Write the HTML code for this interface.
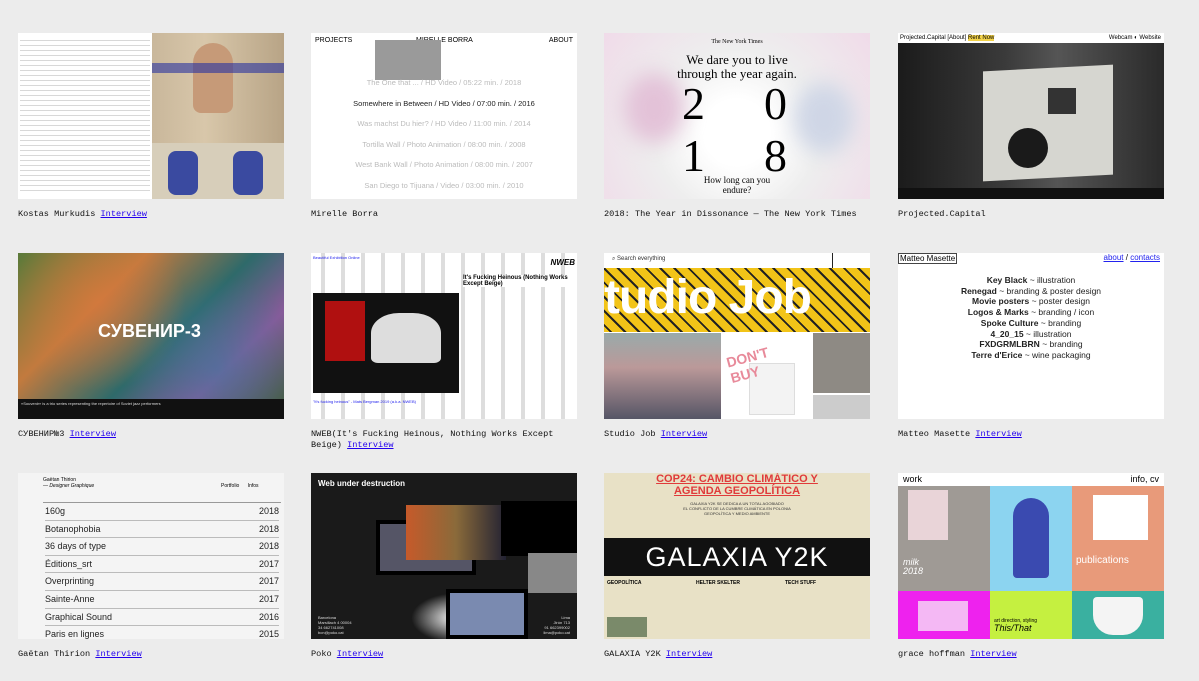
<!DOCTYPE html>
<html><head><meta charset="utf-8">
<style>
*{box-sizing:border-box;margin:0;padding:0}
body{width:1199px;height:681px;background:#ececec;font-family:"Liberation Mono",monospace;position:relative;overflow:hidden}
.card{position:absolute;width:266px}
.th{position:relative;width:266px;height:166px;overflow:hidden;background:#fff}
.cap{position:absolute;top:176px;left:0;font-size:8.6px;line-height:11px;color:#111;white-space:nowrap}
.cap a{color:#2200ee;text-decoration:underline}
.s{font-family:"Liberation Sans",sans-serif;position:absolute}
</style></head><body>

<div class="card" style="left:18px;top:33px">
 <div class="th">
  <div style="position:absolute;left:0;top:0;width:134px;height:166px;background:#fff">
   <div style="position:absolute;left:2px;top:4px;width:130px;height:158px;background:repeating-linear-gradient(#fff 0 3px,#d8d8d8 3px 4px,#fff 4px 5px)"></div>
  </div>
  <div style="position:absolute;left:134px;top:0;width:132px;height:110px;background:linear-gradient(90deg,#c9b79b,#d8c7aa 40%,#b8a486)"></div>
  <div style="position:absolute;left:175px;top:10px;width:40px;height:70px;border-radius:20px 20px 8px 8px;background:#c69a78"></div>
  <div style="position:absolute;left:134px;top:30px;width:132px;height:10px;background:rgba(40,50,160,.6)"></div>
  <div style="position:absolute;left:134px;top:110px;width:132px;height:56px;background:#d7ceba"></div>
  <div style="position:absolute;left:150px;top:118px;width:30px;height:44px;background:#3a4aa0;border-radius:8px"></div>
  <div style="position:absolute;left:215px;top:118px;width:30px;height:44px;background:#3a4aa0;border-radius:8px"></div>
 </div>
 <div class="cap">Kostas Murkudis <a>Interview</a></div>
</div>

<div class="card" style="left:311px;top:33px">
 <div class="th">
  <div class="s" style="left:4px;top:4px;font-size:7px">PROJECTS</div>
  <div class="s" style="left:105px;top:4px;font-size:7px">MIRELLE BORRA</div>
  <div class="s" style="right:4px;top:4px;font-size:7px">ABOUT</div>
  <div style="position:absolute;left:64px;top:7px;width:66px;height:40px;background:#9a9a9a"></div>
  <div class="s" style="left:0;width:266px;text-align:center;top:40px;font-size:7.5px;line-height:20.5px;color:#bbb">The One that ... / HD Video / 05:22 min. / 2018<br><span style="color:#222">Somewhere in Between / HD Video / 07:00 min. / 2016</span><br>Was machst Du hier? / HD Video / 11:00 min. / 2014<br>Tortilla Wall / Photo Animation / 08:00 min. / 2008<br>West Bank Wall / Photo Animation / 08:00 min. / 2007<br>San Diego to Tijuana / Video / 03:00 min. / 2010<br>Public Poster / Walls of Separation Project / 2012<br>Peace Lines / Walls of Separation Project / Photographs / 2009</div>
 </div>
 <div class="cap">Mirelle Borra</div>
</div>

<div class="card" style="left:604px;top:33px">
 <div class="th" style="background:radial-gradient(circle at 50% 60%,#fff 20%,#eee 50%,#f0dbe9 100%)">
  <div style="position:absolute;left:20px;top:40px;width:60px;height:70px;background:#e3c2d8;filter:blur(10px);border-radius:50%"></div>
  <div style="position:absolute;left:190px;top:50px;width:60px;height:70px;background:#cfd6e6;filter:blur(10px);border-radius:50%"></div>
  <div style="position:absolute;left:0;top:6px;width:266px;text-align:center;font-family:'Liberation Serif',serif;font-size:6px">The New York Times</div>
  <div style="position:absolute;left:0;top:20px;width:266px;text-align:center;font-family:'Liberation Serif',serif;font-size:13px;line-height:14px">We dare you to live<br>through the year again.</div>
  <div style="position:absolute;left:78px;top:44px;font-family:'Liberation Serif',serif;font-size:46px">2</div>
  <div style="position:absolute;left:160px;top:44px;font-family:'Liberation Serif',serif;font-size:46px">0</div>
  <div style="position:absolute;left:78px;top:96px;font-family:'Liberation Serif',serif;font-size:46px">1</div>
  <div style="position:absolute;left:160px;top:96px;font-family:'Liberation Serif',serif;font-size:46px">8</div>
  <div style="position:absolute;left:0;top:142px;width:266px;text-align:center;font-family:'Liberation Serif',serif;font-size:9px;line-height:10px">How long can you<br>endure?</div>
 </div>
 <div class="cap">2018: The Year in Dissonance — The New York Times</div>
</div>

<div class="card" style="left:898px;top:33px">
 <div class="th" style="background:#fff">
  <div class="s" style="left:2px;top:2px;font-size:6px">Projected.Capital  [About]  <span style="background:#f3d34a">Rent Now</span></div>
  <div class="s" style="right:3px;top:2px;font-size:6px">Webcam ◐ Website</div>
  <div style="position:absolute;left:0;top:10px;width:266px;height:156px;background:linear-gradient(90deg,#1b1b1b,#3a3a3a 40%,#555 60%,#2a2a2a)"></div>
  <div style="position:absolute;left:85px;top:35px;width:130px;height:110px;background:#d6d6d0;transform:skewY(-3deg)"></div>
  <div style="position:absolute;left:150px;top:55px;width:28px;height:26px;background:#333"></div>
  <div style="position:absolute;left:110px;top:95px;width:40px;height:40px;background:#1a1a1a;border-radius:50%"></div>
  <div style="position:absolute;left:0;top:155px;width:266px;height:11px;background:#111"></div>
 </div>
 <div class="cap">Projected.Capital</div>
</div>

<div class="card" style="left:18px;top:253px">
 <div class="th" style="background:linear-gradient(135deg,#5a7a3a,#c27a3e 30%,#2e6a6a 55%,#8a5a9a 75%,#3a5a2a)">
  <div style="position:absolute;inset:0;background:radial-gradient(circle at 30% 30%,rgba(220,120,60,.6),transparent 40%),radial-gradient(circle at 75% 70%,rgba(60,120,160,.6),transparent 40%)"></div>
  <div class="s" style="left:80px;top:68px;font-size:18px;font-weight:bold;color:#fff">СУВЕНИР-3</div>
  <div style="position:absolute;left:0;top:146px;width:266px;height:20px;background:#111"></div>
  <div class="s" style="left:3px;top:148px;font-size:4px;color:#ddd">«Souvenir» is a trio series representing the repertoire of Soviet jazz performers</div>
 </div>
 <div class="cap">СУВЕНИР№3 <a>Interview</a></div>
</div>

<div class="card" style="left:311px;top:253px">
 <div class="th" style="background:repeating-linear-gradient(90deg,#fff 0 10px,#ddd 10px 14px,#fff 14px 20px)">
  <div class="s" style="left:2px;top:2px;font-size:4px;color:#22e">Beautiful Exhibition Online</div>
  <div class="s" style="left:152px;top:22px;font-size:6px;font-weight:bold;background:#fff">It's Fucking Heinous (Nothing Works Except Beige)</div>
  <div class="s" style="right:2px;top:5px;font-size:8px;font-weight:bold;font-style:italic">NWEB</div>
  <div style="position:absolute;left:2px;top:40px;width:146px;height:100px;background:#111"></div>
  <div style="position:absolute;left:14px;top:48px;width:40px;height:60px;background:#b01010"></div>
  <div style="position:absolute;left:60px;top:60px;width:70px;height:50px;background:#ddd;border-radius:40% 40% 10% 10%"></div>
  <div class="s" style="left:2px;top:146px;font-size:4px;color:#22e">"It's fucking heinous" - Mats Bergman 2019 (a.k.a. NWEB)</div>
 </div>
 <div class="cap">NWEB(It's Fucking Heinous, Nothing Works Except<br>Beige) <a>Interview</a></div>
</div>

<div class="card" style="left:604px;top:253px">
 <div class="th">
  <div class="s" style="left:8px;top:3px;font-size:6px;color:#333">⌕ Search everything</div>
  <div style="position:absolute;left:228px;top:0;width:1px;height:15px;background:#222"></div>
  <div style="position:absolute;left:0;top:15px;width:266px;height:64px;background:repeating-linear-gradient(45deg,#f2c418 0 4px,#222 4px 6px,#f2c418 6px 10px)"></div>
  <div class="s" style="left:0;top:15px;font-size:48px;line-height:60px;font-weight:bold;color:#fff;letter-spacing:-1px">tudio Job</div>
  <div style="position:absolute;left:0;top:80px;width:117px;height:86px;background:linear-gradient(#9aa 0,#b99 40%,#556 100%)"></div>
  <div style="position:absolute;left:118px;top:80px;width:90px;height:86px;background:#fff"></div>
  <div style="position:absolute;left:145px;top:110px;width:46px;height:52px;background:#f3f3f3;border:1px solid #ddd"></div>
  <div class="s" style="left:124px;top:96px;font-size:14px;font-weight:bold;color:#e88a9a;transform:rotate(-15deg)">DON'T<br>BUY</div>
  <div style="position:absolute;left:209px;top:80px;width:57px;height:60px;background:#8e8a84"></div>
  <div style="position:absolute;left:209px;top:142px;width:57px;height:24px;background:#ccc"></div>
 </div>
 <div class="cap">Studio Job <a>Interview</a></div>
</div>

<div class="card" style="left:898px;top:253px">
 <div class="th">
  <div class="s" style="left:0;top:0;font-size:8px;border:1px solid #444;padding:0 1px">Matteo Masette</div>
  <div class="s" style="right:4px;top:0;font-size:8px"><span style="color:#22e;text-decoration:underline">about</span> / <span style="color:#22e;text-decoration:underline">contacts</span></div>
  <div class="s" style="left:0;top:22px;width:266px;text-align:center;font-size:8.5px;line-height:10.7px;color:#222"><b>Key Black</b> ~ illustration<br><b>Renegad</b> ~ branding &amp; poster design<br><b>Movie posters</b> ~ poster design<br><b>Logos &amp; Marks</b> ~ branding / icon<br><b>Spoke Culture</b> ~ branding<br><b>4_20_15</b> ~ illustration<br><b>FXDGRMLBRN</b> ~ branding<br><b>Terre d'Erice</b> ~ wine packaging</div>
 </div>
 <div class="cap">Matteo Masette <a>Interview</a></div>
</div>

<div class="card" style="left:18px;top:473px">
 <div class="th" style="background:#f4f4f4">
  <div class="s" style="left:25px;top:4px;font-size:5px;line-height:6px">Gaëtan Thirion<br><i>— Designer Graphique</i></div>
  <div class="s" style="left:203px;top:10px;font-size:5px">Portfolio &nbsp;&nbsp;&nbsp;&nbsp; Infos</div>
  <div style="position:absolute;left:25px;top:29px;width:238px;border-top:1px solid #999"></div>
  <div class="s" style="left:27px;top:30px;width:234px;font-size:9px;line-height:16.6px;color:#222">
   <div style="display:flex;justify-content:space-between;border-bottom:1px solid #bbb"><span>160g</span><span>2018</span></div>
   <div style="display:flex;justify-content:space-between;border-bottom:1px solid #bbb"><span>Botanophobia</span><span>2018</span></div>
   <div style="display:flex;justify-content:space-between;border-bottom:1px solid #bbb"><span>36 days of type</span><span>2018</span></div>
   <div style="display:flex;justify-content:space-between;border-bottom:1px solid #bbb"><span>Éditions_srt</span><span>2017</span></div>
   <div style="display:flex;justify-content:space-between;border-bottom:1px solid #bbb"><span>Overprinting</span><span>2017</span></div>
   <div style="display:flex;justify-content:space-between;border-bottom:1px solid #bbb"><span>Sainte-Anne</span><span>2017</span></div>
   <div style="display:flex;justify-content:space-between;border-bottom:1px solid #bbb"><span>Graphical Sound</span><span>2016</span></div>
   <div style="display:flex;justify-content:space-between;border-bottom:1px solid #bbb"><span>Paris en lignes</span><span>2015</span></div>
   <div style="display:flex;justify-content:space-between"><span>MINIMALIZM</span><span>2015</span></div>
  </div>
 </div>
 <div class="cap">Gaëtan Thirion <a>Interview</a></div>
</div>

<div class="card" style="left:311px;top:473px">
 <div class="th" style="background:#1a1a1a">
  <div class="s" style="left:7px;top:6px;font-size:8px;font-weight:bold;color:#fff">Web under destruction</div>
  <div style="position:absolute;left:100px;top:120px;width:90px;height:50px;background:radial-gradient(#fff,transparent 70%)"></div>
  <div style="position:absolute;left:65px;top:47px;width:100px;height:55px;background:#556;border:4px solid #000"></div>
  <div style="position:absolute;left:95px;top:32px;width:100px;height:55px;background:linear-gradient(90deg,#c65a2a,#8a6a3a 50%,#223)"></div>
  <div style="position:absolute;left:190px;top:28px;width:76px;height:55px;background:#000"></div>
  <div style="position:absolute;left:217px;top:80px;width:49px;height:40px;background:#888"></div>
  <div style="position:absolute;left:135px;top:116px;width:82px;height:50px;background:#7a8ab0;border:4px solid #000"></div>
  <div class="s" style="left:7px;top:142px;font-size:4px;color:#ddd;line-height:5px">Barcelona<br>Marsillach 4 00004<br>34 662741008<br>bcn@poko.cat</div>
  <div class="s" style="right:7px;top:142px;font-size:4px;color:#ddd;line-height:5px;text-align:right">Lima<br>Jirón 713<br>91 662399002<br>lima@poko.cat</div>
 </div>
 <div class="cap">Poko <a>Interview</a></div>
</div>

<div class="card" style="left:604px;top:473px">
 <div class="th" style="background:#e8e1c6">
  <div class="s" style="left:0;top:0;width:266px;text-align:center;font-size:11px;line-height:12px;font-weight:bold;color:#e03a3a;text-decoration:underline">COP24: CAMBIO CLIMÁTICO Y<br>AGENDA GEOPOLÍTICA</div>
  <div class="s" style="left:0;top:28px;width:266px;text-align:center;font-size:4px;line-height:5px;color:#333">GALAXIA Y2K SE DEDICA A UN TOTAL AGOBIADO<br>EL CONFLICTO DE LA CUMBRE CLIMÁTICA EN POLONIA<br>GEOPOLÍTICA Y MEDIO AMBIENTE</div>
  <div style="position:absolute;left:0;top:65px;width:266px;height:38px;background:#111"></div>
  <div class="s" style="left:0;top:65px;width:266px;text-align:center;font-size:27px;line-height:38px;color:#fff;letter-spacing:1px">GALAXIA Y2K</div>
  <div class="s" style="left:3px;top:107px;font-size:5px;font-weight:bold">GEOPOLÍTICA</div>
  <div class="s" style="left:92px;top:107px;font-size:5px;font-weight:bold">HELTER SKELTER</div>
  <div class="s" style="left:181px;top:107px;font-size:5px;font-weight:bold">TECH STUFF</div>
  <div style="position:absolute;left:3px;top:144px;width:40px;height:20px;background:#7a8a6a"></div>
 </div>
 <div class="cap">GALAXIA Y2K <a>Interview</a></div>
</div>

<div class="card" style="left:898px;top:473px">
 <div class="th">
  <div class="s" style="left:5px;top:1px;font-size:9px">work</div>
  <div class="s" style="right:5px;top:1px;font-size:9px">info, cv</div>
  <div style="position:absolute;left:0;top:13px;width:92px;height:105px;background:#9f9a95"></div>
  <div style="position:absolute;left:10px;top:17px;width:40px;height:50px;background:#e9d4d8"></div>
  <div class="s" style="left:5px;top:85px;font-size:9px;line-height:9px;color:#fff;font-style:italic">milk<br>2018</div>
  <div style="position:absolute;left:0;top:118px;width:92px;height:48px;background:#ee22ee"></div>
  <div style="position:absolute;left:20px;top:128px;width:50px;height:30px;background:#f4b8f4"></div>
  <div style="position:absolute;left:92px;top:13px;width:82px;height:105px;background:#8cd4f0"></div>
  <div style="position:absolute;left:115px;top:25px;width:36px;height:80px;background:#3a4ab0;border-radius:18px 18px 4px 4px"></div>
  <div style="position:absolute;left:174px;top:13px;width:92px;height:105px;background:#e89a7a"></div>
  <div style="position:absolute;left:195px;top:22px;width:55px;height:45px;background:#fff"></div>
  <div class="s" style="left:178px;top:82px;font-size:10px;color:#fff">publications</div>
  <div style="position:absolute;left:92px;top:118px;width:82px;height:48px;background:#c5f040"></div>
  <div class="s" style="left:96px;top:145px;font-size:5px;line-height:7px">art direction, styling<br><i style="font-size:9px">This/That</i></div>
  <div style="position:absolute;left:174px;top:118px;width:92px;height:48px;background:#3ab0a0"></div>
  <div style="position:absolute;left:195px;top:124px;width:50px;height:38px;background:#f4f4f4;border-radius:4px 4px 20px 20px"></div>
 </div>
 <div class="cap">grace hoffman <a>Interview</a></div>
</div>

</body></html>
